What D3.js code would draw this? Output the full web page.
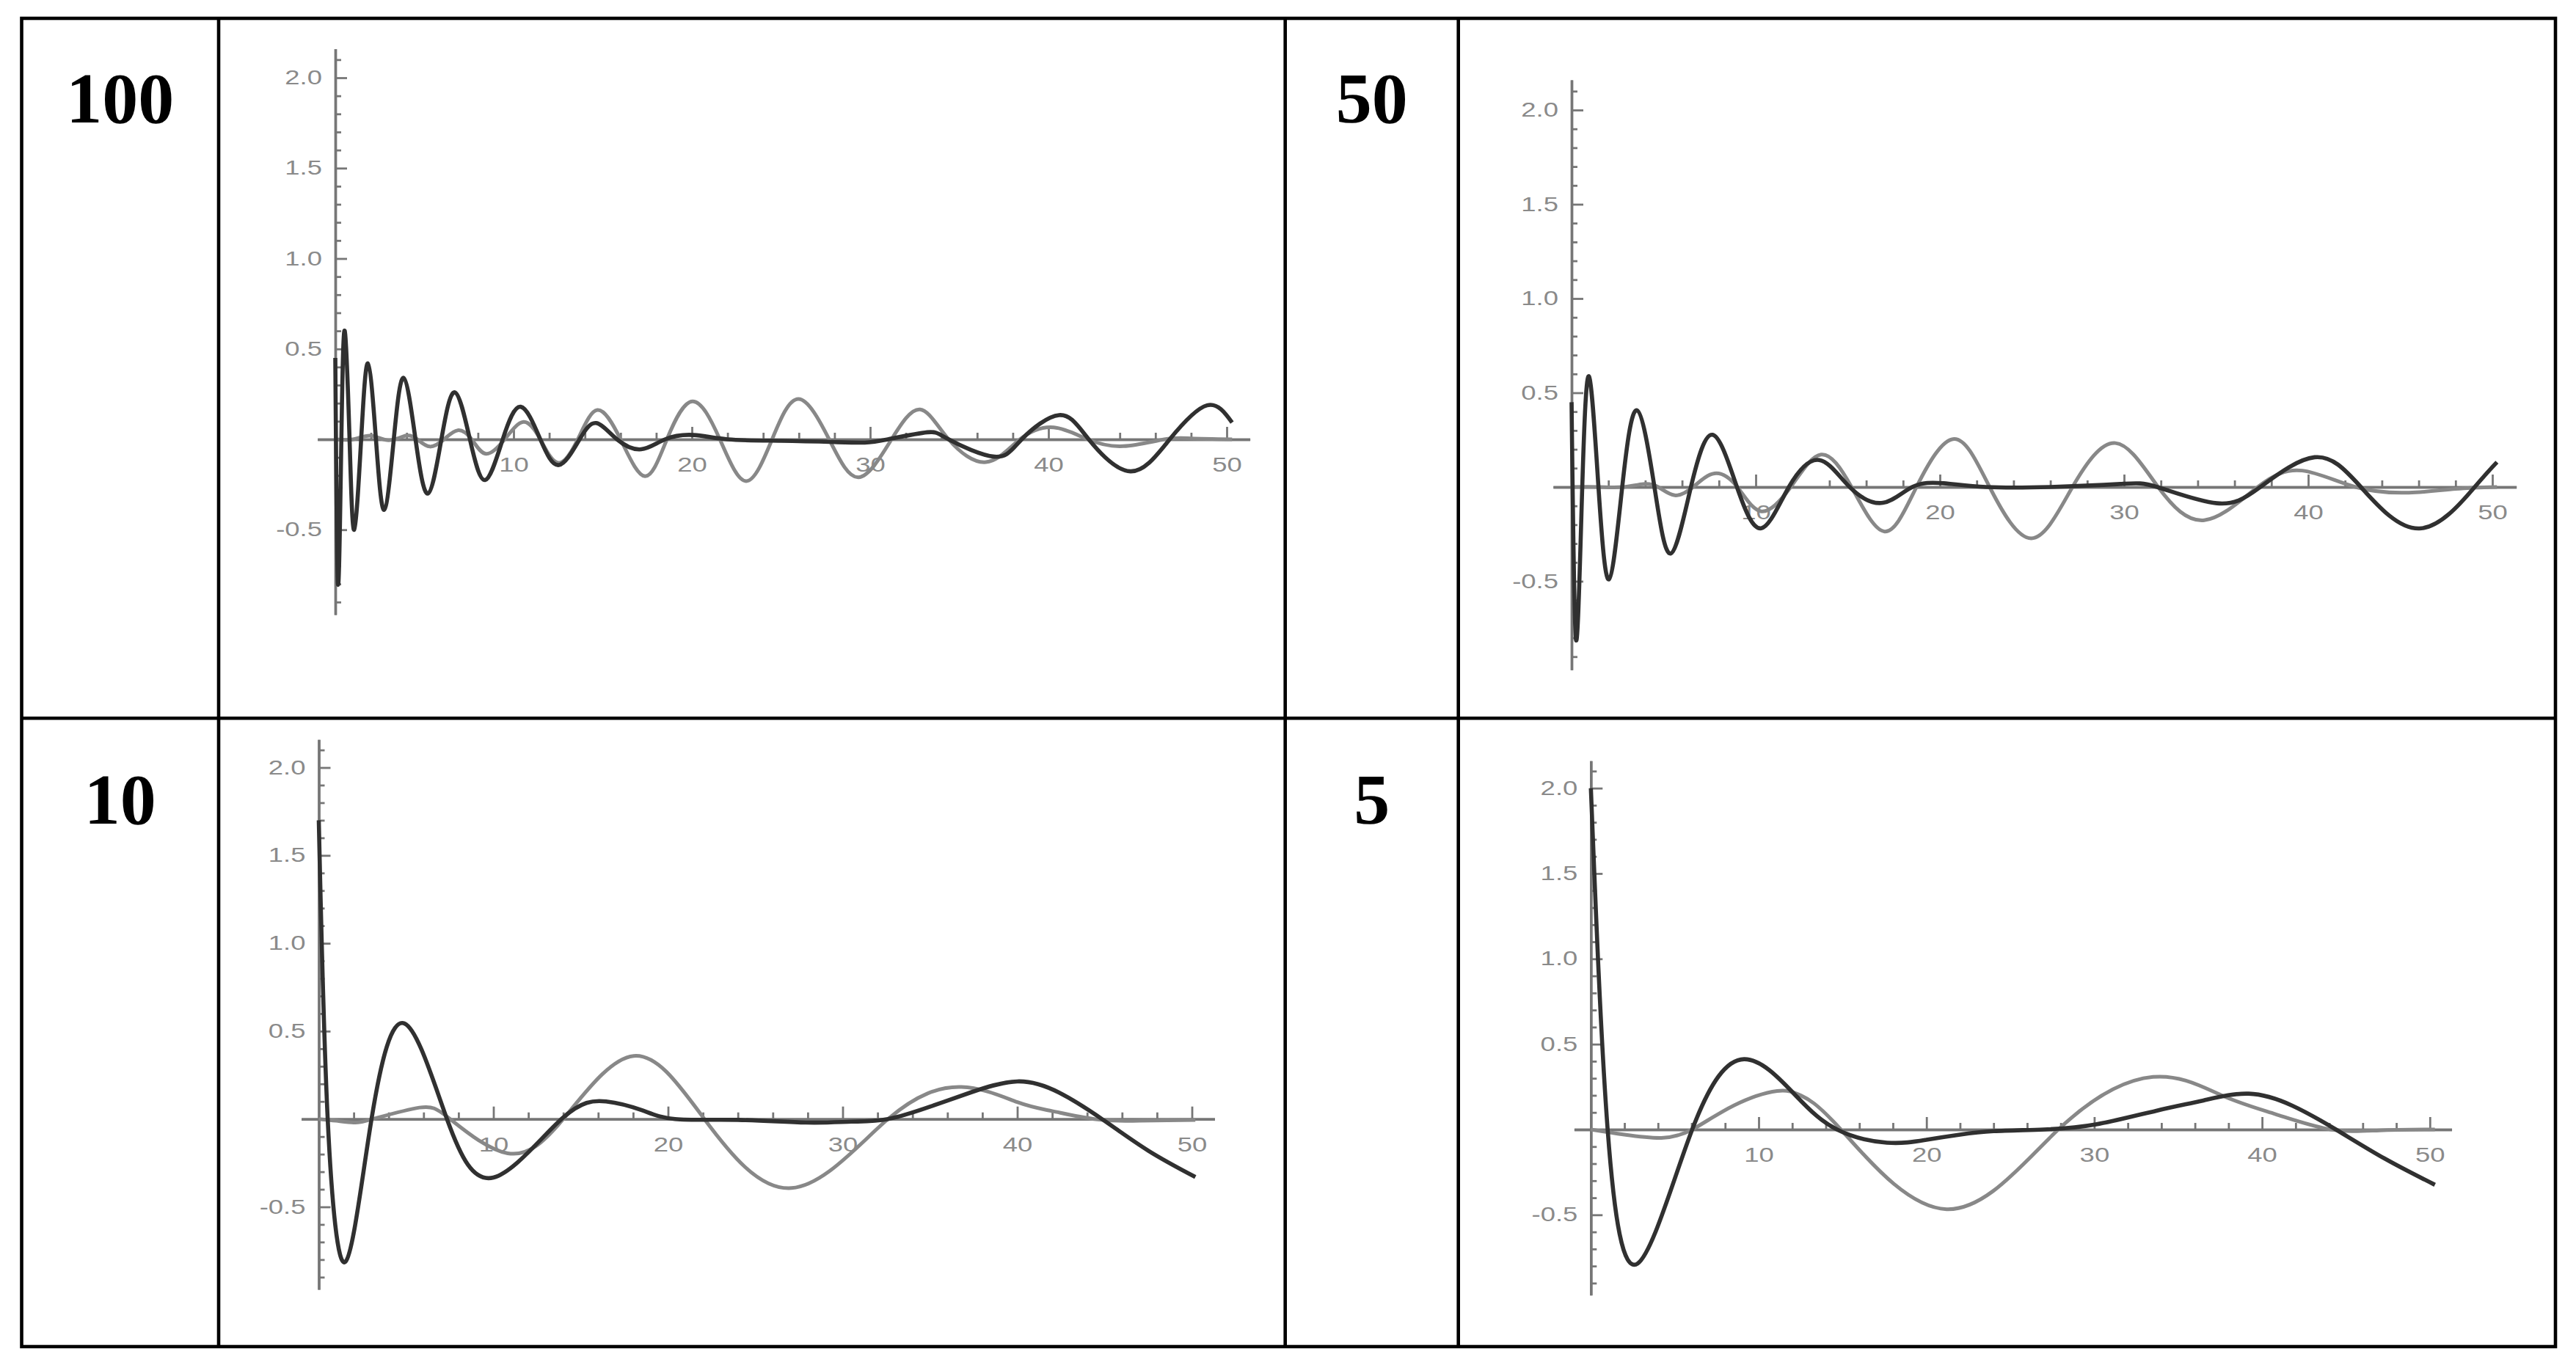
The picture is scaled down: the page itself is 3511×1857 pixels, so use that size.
<!DOCTYPE html>
<html><head><meta charset="utf-8">
<script src="https://cdn.jsdelivr.net/npm/d3@7"></script>
<style>body{margin:0;background:#fff}svg{display:block}</style>
</head><body>
<svg id="c" width="3511" height="1857"></svg>
<script>
// ---------- data ----------
const panelLabels = ["100", "50", "10", "5"];
const yTickValues = [-0.5, 0.5, 1.0, 1.5, 2.0];
const yTickLabels = ["-0.5", "0.5", "1.0", "1.5", "2.0"];
const xTickValues = [10, 20, 30, 40, 50];
const xTickLabels = ["10", "20", "30", "40", "50"];
const yMinorTicks = [-0.9,-0.8,-0.7,-0.6,-0.4,-0.3,-0.2,-0.1,0.1,0.2,0.3,0.4,0.6,0.7,0.8,0.9,1.1,1.2,1.3,1.4,1.6,1.7,1.8,1.9,2.1];
const xMinorTicks = [2,4,6,8,12,14,16,18,22,24,26,28,32,34,36,38,42,44,46,48];

// N = 100
const dark100 = [[0,0.45],[0.15,-0.80],[0.34,0],[0.53,0.60],[0.8,0],[1.06,-0.50],[1.45,0],[1.83,0.42],[2.28,0],[2.74,-0.39],[3.28,0],[3.83,0.34],[4.5,0],[5.19,-0.30],[5.95,0],[6.70,0.26],[7.55,0],[8.40,-0.225],[9.39,0],[10.40,0.18],[11.5,0],[12.54,-0.142],[13.7,0],[14.64,0.09],[15.8,0],[17.16,-0.055],[18.5,0],[20.1,0.024],[22,0.0],[25,-0.008],[28,-0.015],[29.7,-0.018],[31.0,0],[33.2,0.039],[34.4,0],[36.97,-0.096],[38.5,0],[40.6,0.134],[42.26,0],[44.6,-0.177],[46.8,0],[48.9,0.188],[50.3,0.093]];
const gray100 = [[0,0],[1,0.0],[2.0,0.02],[3.0,-0.005],[3.96,0.02],[4.6,0],[5.3,-0.04],[6.1,0],[6.87,0.05],[7.65,0],[8.45,-0.08],[9.5,0],[10.55,0.096],[11.5,0],[12.5,-0.13],[13.6,0],[14.7,0.162],[16.0,0],[17.37,-0.204],[18.6,0],[20.04,0.21],[21.57,0],[23.04,-0.231],[24.5,0],[25.98,0.223],[27.7,0],[29.35,-0.21],[31.2,0],[32.8,0.165],[34.4,0],[36.5,-0.126],[38.4,0],[40.3,0.066],[42.2,0],[44.2,-0.038],[46.5,0],[48,0.005],[50.3,0]];

// N = 50
const dark50 = [[0,0.45],[0.24,-0.81],[0.58,0],[0.95,0.586],[1.46,0],[2.03,-0.49],[2.75,0],[3.55,0.407],[4.5,0],[5.38,-0.353],[6.48,0],[7.66,0.277],[8.98,0],[10.3,-0.219],[11.8,0],[13.45,0.143],[15.1,0],[16.9,-0.084],[18.5,0],[20.2,0.02],[22.5,0.0],[26,0.0],[29.8,0.016],[31.8,0],[35.04,-0.086],[37.4,0],[40.35,0.158],[42.86,0],[46.04,-0.22],[49.04,0],[50.25,0.132]];
const gray50 = [[0,0],[1.5,0.0],[2.8,0],[3.9,0.016],[4.7,0],[5.6,-0.044],[6.6,0],[7.76,0.072],[9.0,0],[10.3,-0.129],[11.9,0],[13.55,0.172],[15.2,0],[17.0,-0.236],[18.73,0],[20.77,0.255],[22.7,0],[24.97,-0.272],[27.2,0],[29.53,0.233],[31.85,0],[34.36,-0.176],[37.26,0],[39.67,0.087],[42.57,0],[45.47,-0.03],[48,-0.01],[50.25,0]];

// N = 10
const dark10 = [[0,1.70],[0.51,0],[1.52,-0.813],[3.02,0],[4.9,0.544],[7.34,0],[10.0,-0.333],[13.9,0],[16.45,0.10],[18.5,0.05],[20.4,0.0],[24,-0.005],[27.9,-0.02],[30.5,-0.015],[32.6,0],[35,0.07],[37.3,0.15],[40.0,0.214],[42.4,0.15],[44.85,0],[47.5,-0.18],[50.2,-0.33]];
const gray10 = [[0,0],[1,-0.01],[2.0,-0.02],[3.1,0],[5.76,0.065],[7.52,0],[10.82,-0.195],[14.0,0],[18.03,0.359],[22.08,0],[27.07,-0.393],[32.6,0],[36.8,0.182],[40,0.096],[42,0.045],[44.4,0],[47,-0.01],[50.2,-0.005]];

// N = 5
const dark5 = [[0,2.0],[1.0,0],[2.79,-0.785],[6.04,0],[9.13,0.412],[12.2,0.2],[14.67,0],[17.64,-0.077],[20,-0.06],[22,-0.03],[24,-0.01],[27,0],[30.1,0.03],[33.7,0.11],[36.5,0.17],[39.2,0.21],[41.8,0.14],[44.4,0],[47.3,-0.17],[50.3,-0.324]];
const gray5 = [[0,0],[2,-0.03],[4.2,-0.049],[6.04,0],[8.5,0.14],[11.1,0.226],[12.5,0.2],[14.9,0],[21.2,-0.467],[27.86,0],[33.5,0.308],[37.6,0.2],[40.8,0.09],[44.1,0],[47,-0.005],[50.3,0]];

// ---------- layout ----------
const svg = d3.select("#c");
const LW = 4.6;
const T = {left: 29.5, top: 25, right: 3483, bottom: 1836, c1: 298, c2: 1751.7, c3: 1987.7, r1: 979.3};

const panels = [
  {label: panelLabels[0], dark: dark100, gray: gray100, x0: 457,    xs: 24.3,  y0: 599,    ys: 246.5, lx: (T.left+T.c1)/2, ly: 167},
  {label: panelLabels[1], dark: dark50,  gray: gray50,  x0: 2142,   xs: 25.1,  y0: 664,    ys: 257,   lx: (T.c2+T.c3)/2,   ly: 167},
  {label: panelLabels[2], dark: dark10,  gray: gray10,  x0: 434.5,  xs: 23.8,  y0: 1525.7, ys: 239.6, lx: (T.left+T.c1)/2, ly: 1123},
  {label: panelLabels[3], dark: dark5,   gray: gray5,   x0: 2168.3, xs: 22.87, y0: 1540,   ys: 232.7, lx: (T.c2+T.c3)/2,   ly: 1123}
];

const X_MIN = -1.0, X_MAX = 51.3, Y_MIN = -0.97, Y_MAX = 2.16;
const STRETCH = 1.35;

function stretchText(sel) {
  sel.each(function() {
    const w = this.getComputedTextLength();
    d3.select(this).attr("textLength", w * STRETCH).attr("lengthAdjust", "spacingAndGlyphs");
  });
}

panels.forEach(p => {
  const x = d3.scaleLinear().domain([X_MIN, X_MAX]).range([p.x0 + X_MIN * p.xs, p.x0 + X_MAX * p.xs]);
  const y = d3.scaleLinear().domain([Y_MIN, Y_MAX]).range([p.y0 - Y_MIN * p.ys, p.y0 - Y_MAX * p.ys]);
  const g = svg.append("g");

  const gyMin = g.append("g").attr("transform", `translate(${x(0)},0)`)
    .call(d3.axisLeft(y).tickValues(yMinorTicks).tickSizeInner(-8).tickSizeOuter(0).tickFormat(""));
  const gy = g.append("g").attr("transform", `translate(${x(0)},0)`)
    .call(d3.axisLeft(y).tickValues(yTickValues).tickSizeInner(-16).tickSizeOuter(0).tickPadding(18)
      .tickFormat((d, i) => yTickLabels[i]));
  const gxMin = g.append("g").attr("transform", `translate(0,${y(0)})`)
    .call(d3.axisBottom(x).tickValues(xMinorTicks).tickSizeInner(-9).tickSizeOuter(0).tickFormat(""));
  const gx = g.append("g").attr("transform", `translate(0,${y(0)})`)
    .call(d3.axisBottom(x).tickValues(xTickValues).tickSizeInner(-17).tickSizeOuter(0).tickPadding(25)
      .tickFormat((d, i) => xTickLabels[i]));

  [gyMin, gy, gxMin, gx].forEach(a => {
    a.selectAll("path.domain").attr("stroke", "#767676").attr("stroke-width", 3.4);
    a.selectAll(".tick line").attr("stroke", "#767676").attr("stroke-width", 2.8);
    a.selectAll(".tick text").attr("fill", "#8a8a8a")
      .style("font-family", "'Liberation Sans', Arial, sans-serif").style("font-size", "27px");
  });
  stretchText(gy.selectAll(".tick text"));
  stretchText(gx.selectAll(".tick text"));

  const line = d3.line().x(d => x(d[0])).y(d => y(d[1])).curve(d3.curveNatural);
  g.append("path").datum(p.gray).attr("d", line)
    .attr("fill", "none").attr("stroke", "#888888").attr("stroke-width", 5).attr("stroke-linejoin", "round");
  g.append("path").datum(p.dark).attr("d", line)
    .attr("fill", "none").attr("stroke", "#303030").attr("stroke-width", 5.6).attr("stroke-linejoin", "round");

  svg.append("text").attr("x", p.lx).attr("y", p.ly).attr("text-anchor", "middle")
    .style("font-family", "'Liberation Serif', 'Times New Roman', serif").style("font-weight", "bold")
    .style("font-size", "98px").attr("fill", "#000").text(p.label);
});

// ---------- table grid ----------
const grid = svg.append("g").attr("stroke", "#000").attr("stroke-width", LW).attr("fill", "none");
grid.append("rect").attr("x", T.left).attr("y", T.top).attr("width", T.right - T.left).attr("height", T.bottom - T.top);
[T.c1, T.c2, T.c3].forEach(cx => grid.append("line").attr("x1", cx).attr("x2", cx).attr("y1", T.top).attr("y2", T.bottom));
grid.append("line").attr("x1", T.left).attr("x2", T.right).attr("y1", T.r1).attr("y2", T.r1);
</script>
</body></html>
